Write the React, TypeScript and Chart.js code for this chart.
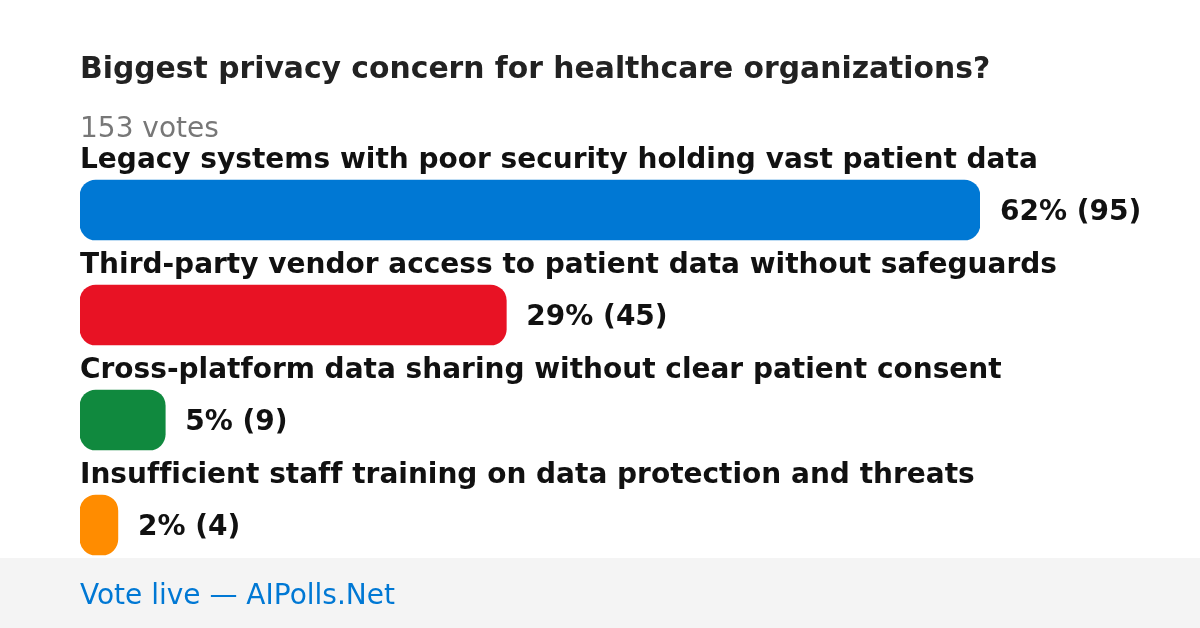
import React, { useEffect, useRef } from "react";
import { Chart, registerables } from "chart.js";

Chart.register(...registerables);

const title = "Biggest privacy concern for healthcare organizations?";
const totalLabel = "153 votes";
const footerLabel = "Vote live — AIPolls.Net";
const categories = [
  "Legacy systems with poor security holding vast patient data",
  "Third-party vendor access to patient data without safeguards",
  "Cross-platform data sharing without clear patient consent",
  "Insufficient staff training on data protection and threats",
];
const votes = [95, 45, 9, 4];
const percents = [62, 29, 5, 2];
const barColors = ["#0078d4", "#e81224", "#10893e", "#ff8c00"];

const FONT = "DejaVu Sans";

export default function App() {
  const ref = useRef<HTMLCanvasElement | null>(null);

  useEffect(() => {
    document.body.style.margin = "0";
    const canvas = ref.current!;
    const decor = {
      id: "decor",
      beforeDraw(chart: any) {
        const ctx = chart.ctx;
        ctx.save();
        ctx.fillStyle = "#ffffff";
        ctx.fillRect(0, 0, chart.width, chart.height);
        ctx.fillStyle = "#f4f4f4";
        ctx.fillRect(0, 558, chart.width, chart.height - 558);
        ctx.restore();
      },
      afterDraw(chart: any) {
        const ctx = chart.ctx;
        const left = chart.chartArea.left;
        ctx.save();
        try {
          (ctx as any).textRendering = "optimizeSpeed";
        } catch (e) {}
        ctx.textAlign = "left";
        ctx.textBaseline = "alphabetic";
        ctx.fillStyle = "#222222";
        ctx.font = `bold 29.8px ${FONT}`;
        ctx.fillText(title, left, 78);
        ctx.fillStyle = "#777777";
        ctx.font = `28px ${FONT}`;
        ctx.fillText(totalLabel, left, 137);
        const meta = chart.getDatasetMeta(0);
        meta.data.forEach((bar: any, i: number) => {
          const top = bar.y - bar.height / 2;
          ctx.fillStyle = "#111111";
          ctx.font = `bold 28px ${FONT}`;
          ctx.fillText(categories[i], left, top - 12.5);
          ctx.fillText(`${percents[i]}% (${votes[i]})`, bar.x + 20, bar.y + 9.5);
        });
        ctx.fillStyle = "#0078d4";
        ctx.font = `28px ${FONT}`;
        ctx.fillText(footerLabel, left, 604);
        ctx.restore();
      },
    };

    let chart: any = null;
    let alive = true;
    const build = () => {
      if (!alive) return;
      if (chart) {
        chart.draw();
        return;
      }
      chart = new Chart(canvas, {
        type: "bar",
        data: {
          labels: categories,
          datasets: [
            {
              data: votes,
              backgroundColor: barColors,
              borderRadius: 16,
              borderSkipped: false,
              barThickness: 60,
            },
          ],
        },
        options: {
          indexAxis: "y",
          responsive: false,
          animation: false,
          devicePixelRatio: 1,
          layout: { padding: { left: 80, right: 220, top: 157.5, bottom: 50.5 } },
          scales: {
            x: { display: false, min: 0, max: Math.max(...votes) },
            y: { display: false },
          },
          plugins: {
            legend: { display: false },
            tooltip: { enabled: false },
            title: { display: false },
          },
        },
        plugins: [decor],
      });
    };
    build();
    const fonts: any = (document as any).fonts;
    const redraw = () => requestAnimationFrame(() => build());
    if (fonts && fonts.ready) fonts.ready.then(redraw);
    const t1 = setTimeout(build, 50);
    const t2 = setTimeout(build, 300);
    return () => {
      alive = false;
      clearTimeout(t1);
      clearTimeout(t2);
      if (chart) chart.destroy();
    };
  }, []);

  return (
    <div style={{ position: "absolute", left: 0, top: 0, width: 1200, height: 628, overflow: "hidden" }}>
      <div
        aria-hidden="true"
        style={{ position: "absolute", left: 0, top: 0, color: "transparent", fontFamily: FONT, fontSize: 26, pointerEvents: "none" }}
      >
        <span style={{ fontWeight: 700 }}>Ag</span>
        <span style={{ fontWeight: 400 }}>Ag</span>
      </div>
      <canvas ref={ref} width={1200} height={628} style={{ display: "block", position: "relative" }} />
    </div>
  );
}
